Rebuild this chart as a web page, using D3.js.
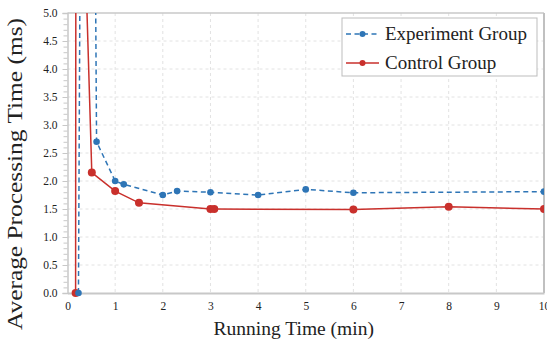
<!DOCTYPE html>
<html lang="en">
<head>
  <meta charset="utf-8">
  <title>Average Processing Time</title>
  <script src="https://cdn.jsdelivr.net/npm/d3@7"></script>
  <style>
    body { margin: 0; background: #fff; }
    text { font-family: "Liberation Serif", "Times New Roman", serif; fill: #222; }
  </style>
</head>
<body>
  <script>
    // minutes / ms
    var expX = [0.23, 0.4, 0.61, 1.0, 1.18, 2.0, 2.3, 3.0, 4.0, 5.0, 6.0, 10.0];
    var expY = [0, 30, 2.70, 2.0, 1.94, 1.75, 1.82, 1.80, 1.75, 1.85, 1.79, 1.81];
    var ctlX = [0.17, 0.18, 0.51, 1.0, 1.5, 3.0, 3.08, 6.0, 8.0, 10.0];
    var ctlY = [0, 11.5, 2.15, 1.82, 1.61, 1.50, 1.50, 1.49, 1.54, 1.50];
    var xTicks = [0, 1, 2, 3, 4, 5, 6, 7, 8, 9, 10];
    var yTicks = [0, 0.5, 1, 1.5, 2, 2.5, 3, 3.5, 4, 4.5, 5];

    var width = 547, height = 339;
    var margin = {top: 13, right: 3, bottom: 46, left: 67.5};
    var w = width - margin.left - margin.right,
        h = height - margin.top - margin.bottom;

    var blue = "#2e75b6", red = "#c9302c";

    var svg = d3.select("body").append("svg")
      .attr("width", width)
      .attr("height", height);

    var g = svg.append("g")
      .attr("transform", "translate(" + margin.left + "," + margin.top + ")");

    var x = d3.scaleLinear().domain([0, 10]).range([0, w]);
    var y = d3.scaleLinear().domain([0, 5]).range([h, 0]);

    // dashed grid
    g.append("g").selectAll("line.gx")
      .data(xTicks.slice(1, -1))
      .enter().append("line")
      .attr("x1", function(d) { return x(d); })
      .attr("x2", function(d) { return x(d); })
      .attr("y1", 0).attr("y2", h)
      .attr("stroke", "#e2e2e2").attr("stroke-dasharray", "3,3");
    g.append("g").selectAll("line.gy")
      .data(yTicks.slice(1, -1))
      .enter().append("line")
      .attr("x1", 0).attr("x2", w)
      .attr("y1", function(d) { return y(d); })
      .attr("y2", function(d) { return y(d); })
      .attr("stroke", "#e2e2e2").attr("stroke-dasharray", "3,3");

    // frame top / right
    g.append("line").attr("x1", 0).attr("x2", w).attr("y1", 0).attr("y2", 0)
      .attr("stroke", "#c8c8c8").attr("stroke-width", 1.5);
    g.append("line").attr("x1", w).attr("x2", w).attr("y1", 0).attr("y2", h)
      .attr("stroke", "#c0c0c0").attr("stroke-width", 2);

    // y axis with minor ticks
    var yMinor = d3.range(0, 51).map(function(i) { return i / 10; });
    var yAxisMinor = d3.axisLeft(y).tickValues(yMinor).tickSize(4).tickFormat("");
    var gm = g.append("g").call(yAxisMinor);
    gm.select(".domain").remove();
    gm.selectAll("line").attr("stroke", "#c8c8c8");

    var yAxis = d3.axisLeft(y).tickValues(yTicks).tickSize(5).tickPadding(5)
      .tickFormat(d3.format(".1f"));
    var gy = g.append("g").call(yAxis);
    gy.select(".domain").attr("stroke", "#c8c8c8").attr("stroke-width", 1.5);
    gy.selectAll("line").attr("stroke", "#c8c8c8");
    gy.selectAll("text").style("font-size", "11.5px").style("font-family", "Liberation Serif");

    var xAxis = d3.axisBottom(x).tickValues(xTicks).tickSize(0).tickPadding(9)
      .tickFormat(d3.format("d"));
    var gx = g.append("g").attr("transform", "translate(0," + h + ")").call(xAxis);
    gx.select(".domain").attr("stroke", "#c8c8c8").attr("stroke-width", 2);
    gx.selectAll("text").style("font-size", "11.5px").style("font-family", "Liberation Serif");

    // axis titles
    svg.append("text")
      .attr("x", (margin.left + width - margin.right) / 2 - 12)
      .attr("y", 335)
      .attr("text-anchor", "middle")
      .style("font-size", "19.5px")
      .text("Running Time (min)");

    svg.append("text")
      .attr("transform", "translate(22," + 174 + ") rotate(-90)")
      .attr("text-anchor", "middle")
      .attr("textLength", 312)
      .attr("lengthAdjust", "spacingAndGlyphs")
      .style("font-size", "21px")
      .text("Average Processing Time (ms)");

    // clipped series
    svg.append("defs").append("clipPath").attr("id", "plot")
      .append("rect").attr("x", 0).attr("y", 0).attr("width", w).attr("height", h + 6);

    var series = [
      {name: "Experiment Group", xs: expX, ys: expY, color: blue, dash: "5,3.5", r: 3.3},
      {name: "Control Group", xs: ctlX, ys: ctlY, color: red, dash: null, r: 4}
    ];

    var line = d3.line()
      .x(function(d) { return x(d[0]); })
      .y(function(d) { return y(d[1]); });

    var plot = g.append("g").attr("clip-path", "url(#plot)");
    series.slice().reverse().forEach(function(s) {
      var pts = s.xs.map(function(v, i) { return [v, s.ys[i]]; });
      plot.append("path")
        .datum(pts)
        .attr("d", line)
        .attr("fill", "none")
        .attr("stroke", s.color)
        .attr("stroke-width", 1.5)
        .attr("stroke-dasharray", s.dash);
      plot.selectAll(null)
        .data(pts.filter(function(d) { return d[1] <= 5; }))
        .enter().append("circle")
        .attr("cx", function(d) { return x(d[0]); })
        .attr("cy", function(d) { return y(d[1]); })
        .attr("r", s.r)
        .attr("fill", s.color);
    });

    // legend
    var lg = svg.append("g").attr("transform", "translate(342,18)");
    lg.append("rect").attr("width", 195).attr("height", 58)
      .attr("fill", "#fff").attr("stroke", "#bdbdbd");
    series.forEach(function(s, i) {
      var ly = 16 + i * 29;
      lg.append("line").attr("x1", 4).attr("x2", 37).attr("y1", ly).attr("y2", ly)
        .attr("stroke", s.color).attr("stroke-width", 1.5).attr("stroke-dasharray", s.dash);
      lg.append("circle").attr("cx", 20.5).attr("cy", ly).attr("r", 3).attr("fill", s.color);
      lg.append("text").attr("x", 43).attr("y", ly + 6)
        .style("font-size", "19px")
        .text(s.name);
    });
  </script>
</body>
</html>
